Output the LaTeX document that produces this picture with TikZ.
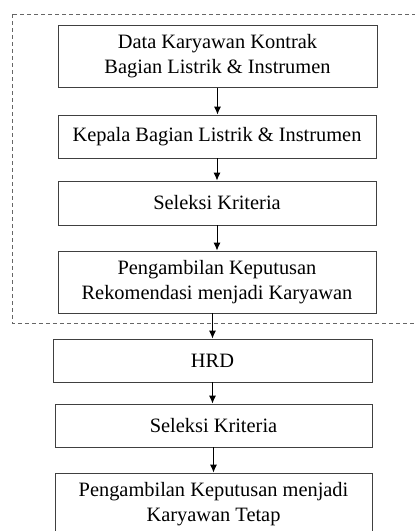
\documentclass[tikz,border=0pt]{standalone}
\usepackage{fontspec}
\setmainfont{Liberation Serif}
\usetikzlibrary{arrows.meta, positioning}
\tikzset{
  flowbox/.style={draw=black!75, line width=0.9pt, minimum width=318pt, minimum height=43pt, align=center, inner sep=2pt, font=\fontsize{20.4}{25}\selectfont},
  twoline/.style={minimum height=62pt},
  flowarrow/.style={-{Latex[length=8pt,width=7pt]}, line width=0.9pt},
  groupline/.style={dashed, dash pattern=on 4pt off 3pt, draw=black!60, line width=0.9pt}
}
\begin{document}
\begin{tikzpicture}[x=1pt,y=-1pt]
  \useasboundingbox (0,0) rectangle (415,531);
  \clip (0,0) rectangle (415,531);
  % dashed group round the department steps
  \draw[groupline] (12,14) rectangle (430,323);
  \node[flowbox, twoline, minimum width=319pt] (data) at (217.5,56.5) {Data Karyawan Kontrak\\Bagian Listrik \& Instrumen};
  \node[flowbox] (kepala) at (217,136.5) {Kepala Bagian Listrik \& Instrumen};
  \node[flowbox, minimum height=44pt] (seleksiA) at (217,203) {Seleksi Kriteria};
  \node[flowbox, twoline] (ambilA) at (217,282) {Pengambilan Keputusan\\Rekomendasi menjadi Karyawan};
  \node[flowbox, minimum width=319pt] (hrd) at (212.5,360.5) {HRD};
  \node[flowbox, minimum width=317pt] (seleksiB) at (213.5,425.5) {Seleksi Kriteria};
  \node[flowbox, twoline, minimum width=317pt] (ambilB) at (213.5,504) {Pengambilan Keputusan menjadi\\Karyawan Tetap};
  \draw[flowarrow] (data.south) -- (data.south |- kepala.north);
  \draw[flowarrow] (kepala.south) -- (kepala.south |- seleksiA.north);
  \draw[flowarrow] (seleksiA.south) -- (seleksiA.south |- ambilA.north);
  \draw[flowarrow] (ambilA.south -| hrd.north) -- (hrd.north);
  \draw[flowarrow] (hrd.south) -- (hrd.south |- seleksiB.north);
  \draw[flowarrow] (seleksiB.south) -- (seleksiB.south |- ambilB.north);
\end{tikzpicture}
\end{document}
